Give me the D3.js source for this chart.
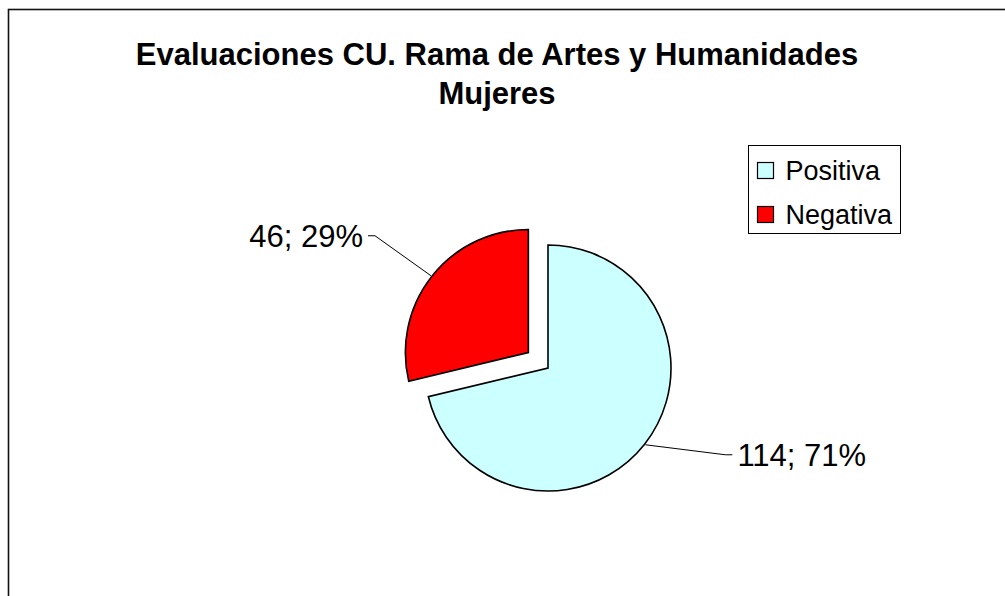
<!DOCTYPE html>
<html>
<head>
<meta charset="utf-8">
<script src="https://cdn.jsdelivr.net/npm/d3@7"></script>
<style>
  html, body { margin: 0; padding: 0; background: #fff; }
  svg { display: block; }
  text { font-family: "Liberation Sans", Arial, sans-serif; fill: #000; }
</style>
</head>
<body>
<svg id="chart" width="1005" height="596"></svg>
<script>
const titleLines = ["Evaluaciones CU. Rama de Artes y Humanidades", "Mujeres"];
const categories = ["Positiva", "Negativa"];
const values = [114, 46];
const percents = ["71%", "29%"];
const colors = ["#CCFFFF", "#FF0000"];
const exploded = [false, true];

const W = 1005, H = 596;
const svg = d3.select("#chart");

// frame (top and left edges visible)
svg.append("rect")
  .attr("x", 8.5).attr("y", 9.5)
  .attr("width", 1100).attr("height", 700)
  .attr("fill", "none").attr("stroke", "#111").attr("stroke-width", 1.6);

// title
const title = svg.append("text")
  .attr("text-anchor", "middle")
  .style("font-weight", "bold")
  .style("font-size", "31px");
titleLines.forEach((t, i) => {
  title.append("tspan").attr("x", 497).attr("y", 65 + i * 39).text(t);
});

// pie
const cx = 548, cy = 368, r = 123, explode = 25;
const pie = d3.pie().sort(null).value(d => d)(values);
const arc = d3.arc().innerRadius(0).outerRadius(r);

const g = svg.append("g").attr("transform", `translate(${cx},${cy})`);

pie.forEach((p, i) => {
  const mid = (p.startAngle + p.endAngle) / 2;
  const dx = exploded[i] ? Math.sin(mid) * explode : 0;
  const dy = exploded[i] ? -Math.cos(mid) * explode : 0;
  g.append("path")
    .attr("d", arc(p))
    .attr("transform", `translate(${dx},${dy})`)
    .attr("fill", colors[i])
    .attr("stroke", "#000")
    .attr("stroke-width", 1.6)
    .attr("stroke-linejoin", "miter");
});

// labels with leader lines
const labelOffsets = [{ex: 80, ey: 10, side: 1}, {ex: -56, ey: -40, side: -1}];
pie.forEach((p, i) => {
  const mid = (p.startAngle + p.endAngle) / 2;
  const dx = exploded[i] ? Math.sin(mid) * explode : 0;
  const dy = exploded[i] ? -Math.cos(mid) * explode : 0;
  const ox = dx + Math.sin(mid) * (r + 1);
  const oy = dy - Math.cos(mid) * (r + 1);
  const o = labelOffsets[i];
  const ex = ox + o.ex, ey = oy + o.ey;
  const tail = o.side * 7;
  g.append("polyline")
    .attr("points", `${ox},${oy} ${ex},${ey} ${ex + tail},${ey}`)
    .attr("fill", "none").attr("stroke", "#000").attr("stroke-width", 1);
  g.append("text")
    .attr("x", ex + tail + o.side * 5)
    .attr("y", ey)
    .attr("dy", "0.36em")
    .attr("text-anchor", o.side > 0 ? "start" : "end")
    .style("font-size", "31px")
    .text(`${values[i]}; ${percents[i]}`);
});

// legend
const lx = 748.5, ly = 145.5, lw = 152, lh = 88;
const leg = svg.append("g");
leg.append("rect").attr("x", lx).attr("y", ly).attr("width", lw).attr("height", lh)
  .attr("fill", "#fff").attr("stroke", "#000").attr("stroke-width", 1);
categories.forEach((c, i) => {
  const yy = ly + 25 + i * 44;
  leg.append("rect")
    .attr("x", lx + 9).attr("y", yy - 8).attr("width", 16).attr("height", 16)
    .attr("fill", colors[i]).attr("stroke", "#000").attr("stroke-width", 1.2);
  leg.append("text")
    .attr("x", lx + 37).attr("y", yy).attr("dy", "0.36em")
    .style("font-size", "27px")
    .text(c);
});
</script>
</body>
</html>
